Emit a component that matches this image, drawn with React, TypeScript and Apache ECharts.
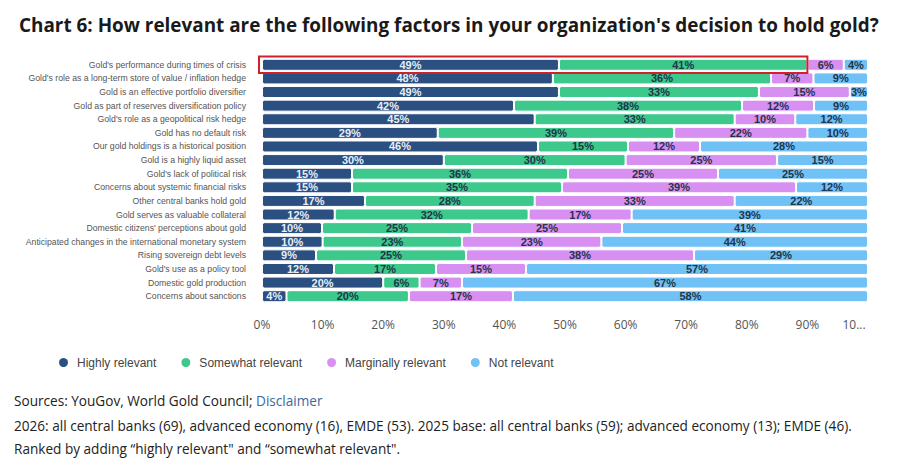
import React, { useEffect, useRef } from "react";
import * as echarts from "echarts";

const categories = [
  "Gold's performance during times of crisis",
  "Gold's role as a long-term store of value / inflation hedge",
  "Gold is an effective portfolio diversifier",
  "Gold as part of reserves diversification policy",
  "Gold's role as a geopolitical risk hedge",
  "Gold has no default risk",
  "Our gold holdings is a historical position",
  "Gold is a highly liquid asset",
  "Gold's lack of political risk",
  "Concerns about systemic financial risks",
  "Other central banks hold gold",
  "Gold serves as valuable collateral",
  "Domestic citizens' perceptions about gold",
  "Anticipated changes in the international monetary system",
  "Rising sovereign debt levels",
  "Gold's use as a policy tool",
  "Domestic gold production",
  "Concerns about sanctions",
];

const highly = [49, 48, 49, 42, 45, 29, 46, 30, 15, 15, 17, 12, 10, 10, 9, 12, 20, 4];
const somewhat = [41, 36, 33, 38, 33, 39, 15, 30, 36, 35, 28, 32, 25, 23, 25, 17, 6, 20];
const marginally = [6, 7, 15, 12, 10, 22, 12, 25, 25, 39, 33, 17, 25, 23, 38, 15, 7, 17];
const notRelevant = [4, 9, 3, 9, 12, 10, 28, 15, 25, 12, 22, 39, 41, 44, 29, 57, 67, 58];

const seriesNames = ["Highly relevant", "Somewhat relevant", "Marginally relevant", "Not relevant"];
const seriesColors = ["#2b4f80", "#3cc98b", "#d88ff2", "#70c1f5"];
const labelColors = ["#e6eef8", "#22344a", "#22344a", "#22344a"];

const xTicks = [0, 10, 20, 30, 40, 50, 60, 70, 80, 90, 100];
const highlightIndex = 0;

const title = "Chart 6: How relevant are the following factors in your organization's decision to hold gold?";
const footer1 = "Sources: YouGov, World Gold Council; ";
const footerLink = "Disclaimer";
const footer2 =
  "2026: all central banks (69), advanced economy (16), EMDE (53). 2025 base: all central banks (59); advanced economy (13); EMDE (46).";
const footer3 = "Ranked by adding \u201chighly relevant\" and \u201csomewhat relevant\".";

export default function App() {
  const ref = useRef<HTMLDivElement>(null);
  useEffect(() => {
    if (!ref.current) return;
    const chart = echarts.init(ref.current, undefined, { renderer: "svg" });
    const values = [highly, somewhat, marginally, notRelevant];
    const rowTotals = categories.map((_, r) => values.reduce((s, arr) => s + arr[r], 0));
    const barSeries = values.map((arr, i) => ({
      name: seriesNames[i],
      type: "bar",
      stack: "total",
      barWidth: 12,
      data: arr.map((v, r) => (v / rowTotals[r]) * 100),
      itemStyle: {
        color: seriesColors[i],
        borderColor: "#ffffff",
        borderWidth: 1,
        borderRadius: 2,
      },
      label: {
        show: true,
        position: "inside",
        formatter: (p: any) => arr[p.dataIndex] + "%",
        fontSize: 11,
        fontWeight: 600,
        fontFamily: "Liberation Sans, Arial, sans-serif",
        color: labelColors[i],
      },
      emphasis: { disabled: true },
    }));
    const hi = highlightIndex;
    const highlightData = [[0, ((highly[hi] + somewhat[hi]) / rowTotals[hi]) * 100, hi]];
    chart.setOption({
      animation: false,
      title: {
        text: title,
        left: 14,
        top: 10,
        textStyle: {
          fontFamily: "Open Sans, sans-serif",
          fontWeight: "bold",
          fontSize: 18.9,
          color: "#1a1a1a",
        },
      },
      legend: {
        data: seriesNames,
        left: 52,
        top: 351,
        icon: "circle",
        itemWidth: 11,
        itemHeight: 11,
        itemGap: 23,
        textStyle: {
          fontFamily: "Liberation Sans, Arial, sans-serif",
          fontSize: 12,
          color: "#444",
          padding: [0, 0, 0, 3],
        },
      },
      grid: { left: 262, right: 32, top: 58, bottom: 169 },
      xAxis: {
        type: "value",
        min: 0,
        max: 100,
        interval: 10,
        axisLine: { show: false },
        axisTick: { show: false },
        splitLine: { show: false },
        axisLabel: {
          margin: 15,
          fontFamily: "Open Sans, sans-serif",
          fontSize: 12,
          color: "#555",
          formatter: (v: number) => (v === xTicks[xTicks.length - 1] ? "{last|10...}" : v + "%"),
          rich: {
            last: {
              fontFamily: "Open Sans, sans-serif",
              fontSize: 12,
              color: "#555",
              padding: [0, 28, 0, 0],
            },
          },
        },
      },
      yAxis: {
        type: "category",
        data: categories,
        inverse: true,
        axisLine: { show: false },
        axisTick: { show: false },
        axisLabel: {
          margin: 16,
          fontFamily: "Liberation Sans, Arial, sans-serif",
          fontSize: 8.7,
          color: "#555",
        },
      },
      series: [
        ...barSeries,
        {
          type: "custom",
          name: "highlight",
          z: 10,
          silent: true,
          data: highlightData,
          encode: { x: [0, 1], y: 2 },
          renderItem: (params: any, api: any) => {
            const start = api.coord([api.value(0), api.value(2)]);
            const end = api.coord([api.value(1), api.value(2)]);
            const band = api.size([0, 1])[1];
            const h = band + 3;
            return {
              type: "rect",
              shape: { x: start[0] - 3, y: start[1] - h / 2, width: end[0] - start[0] + 3, height: h },
              style: { fill: "none", stroke: "#d0202a", lineWidth: 2 },
            };
          },
        },
      ],
      graphic: [
        {
          type: "text",
          left: 14,
          top: 393,
          style: {
            text: "{a|" + footer1 + "}{b|" + footerLink + "}",
            rich: {
              a: { fontFamily: "Open Sans, sans-serif", fontSize: 13.6, fill: "#222" },
              b: { fontFamily: "Open Sans, sans-serif", fontSize: 13.6, fill: "#3a6b9c" },
            },
          },
        },
        {
          type: "text",
          left: 14,
          top: 418,
          style: { text: footer2, font: "13.6px 'Open Sans', sans-serif", fill: "#222" },
        },
        {
          type: "text",
          left: 14,
          top: 441,
          style: { text: footer3, font: "13.6px 'Open Sans', sans-serif", fill: "#222" },
        },
      ],
    });
    return () => chart.dispose();
  }, []);
  return (
    <div
      ref={ref}
      style={{ position: "fixed", left: 0, top: 0, width: 900, height: 472, background: "#fff" }}
    />
  );
}
